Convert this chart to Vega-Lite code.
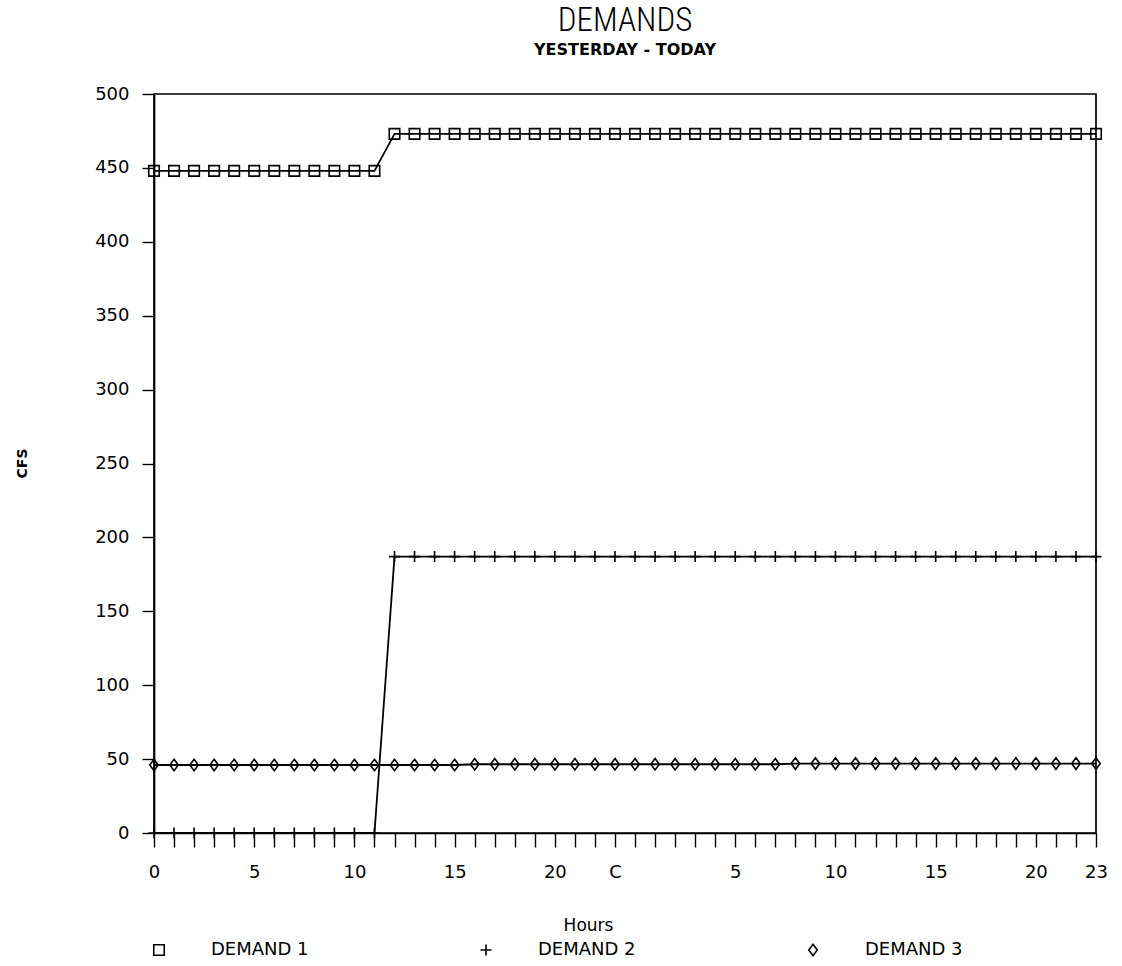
{
  "$schema": "https://vega.github.io/schema/vega-lite/v6.json",
  "autosize": "none",
  "width": 942,
  "height": 739,
  "padding": {"left": 154, "top": 94, "right": 26, "bottom": 133},
  "background": "white",
  "config": {
    "view": {"stroke": "black", "strokeWidth": 1.7},
    "font": "DejaVu Sans"
  },
  "title": {
    "text": "DEMANDS",
    "subtitle": "YESTERDAY - TODAY",
    "anchor": "middle",
    "frame": "group",
    "font": "'Roboto Condensed', 'DejaVu Sans Condensed', Roboto, sans-serif",
    "fontSize": 33,
    "fontWeight": 300,
    "color": "black",
    "subtitleFont": "DejaVu Sans",
    "subtitleFontSize": 16,
    "subtitleFontWeight": "bold",
    "subtitleColor": "black",
    "subtitlePadding": 4,
    "offset": 27
  },
  "data": {
    "values": [
      {"hour": 0, "series": "DEMAND 1", "value": 448},
      {"hour": 1, "series": "DEMAND 1", "value": 448},
      {"hour": 2, "series": "DEMAND 1", "value": 448},
      {"hour": 3, "series": "DEMAND 1", "value": 448},
      {"hour": 4, "series": "DEMAND 1", "value": 448},
      {"hour": 5, "series": "DEMAND 1", "value": 448},
      {"hour": 6, "series": "DEMAND 1", "value": 448},
      {"hour": 7, "series": "DEMAND 1", "value": 448},
      {"hour": 8, "series": "DEMAND 1", "value": 448},
      {"hour": 9, "series": "DEMAND 1", "value": 448},
      {"hour": 10, "series": "DEMAND 1", "value": 448},
      {"hour": 11, "series": "DEMAND 1", "value": 448},
      {"hour": 12, "series": "DEMAND 1", "value": 473},
      {"hour": 13, "series": "DEMAND 1", "value": 473},
      {"hour": 14, "series": "DEMAND 1", "value": 473},
      {"hour": 15, "series": "DEMAND 1", "value": 473},
      {"hour": 16, "series": "DEMAND 1", "value": 473},
      {"hour": 17, "series": "DEMAND 1", "value": 473},
      {"hour": 18, "series": "DEMAND 1", "value": 473},
      {"hour": 19, "series": "DEMAND 1", "value": 473},
      {"hour": 20, "series": "DEMAND 1", "value": 473},
      {"hour": 21, "series": "DEMAND 1", "value": 473},
      {"hour": 22, "series": "DEMAND 1", "value": 473},
      {"hour": 23, "series": "DEMAND 1", "value": 473},
      {"hour": 24, "series": "DEMAND 1", "value": 473},
      {"hour": 25, "series": "DEMAND 1", "value": 473},
      {"hour": 26, "series": "DEMAND 1", "value": 473},
      {"hour": 27, "series": "DEMAND 1", "value": 473},
      {"hour": 28, "series": "DEMAND 1", "value": 473},
      {"hour": 29, "series": "DEMAND 1", "value": 473},
      {"hour": 30, "series": "DEMAND 1", "value": 473},
      {"hour": 31, "series": "DEMAND 1", "value": 473},
      {"hour": 32, "series": "DEMAND 1", "value": 473},
      {"hour": 33, "series": "DEMAND 1", "value": 473},
      {"hour": 34, "series": "DEMAND 1", "value": 473},
      {"hour": 35, "series": "DEMAND 1", "value": 473},
      {"hour": 36, "series": "DEMAND 1", "value": 473},
      {"hour": 37, "series": "DEMAND 1", "value": 473},
      {"hour": 38, "series": "DEMAND 1", "value": 473},
      {"hour": 39, "series": "DEMAND 1", "value": 473},
      {"hour": 40, "series": "DEMAND 1", "value": 473},
      {"hour": 41, "series": "DEMAND 1", "value": 473},
      {"hour": 42, "series": "DEMAND 1", "value": 473},
      {"hour": 43, "series": "DEMAND 1", "value": 473},
      {"hour": 44, "series": "DEMAND 1", "value": 473},
      {"hour": 45, "series": "DEMAND 1", "value": 473},
      {"hour": 46, "series": "DEMAND 1", "value": 473},
      {"hour": 47, "series": "DEMAND 1", "value": 473},
      {"hour": 0, "series": "DEMAND 2", "value": 0},
      {"hour": 1, "series": "DEMAND 2", "value": 0},
      {"hour": 2, "series": "DEMAND 2", "value": 0},
      {"hour": 3, "series": "DEMAND 2", "value": 0},
      {"hour": 4, "series": "DEMAND 2", "value": 0},
      {"hour": 5, "series": "DEMAND 2", "value": 0},
      {"hour": 6, "series": "DEMAND 2", "value": 0},
      {"hour": 7, "series": "DEMAND 2", "value": 0},
      {"hour": 8, "series": "DEMAND 2", "value": 0},
      {"hour": 9, "series": "DEMAND 2", "value": 0},
      {"hour": 10, "series": "DEMAND 2", "value": 0},
      {"hour": 11, "series": "DEMAND 2", "value": 0},
      {"hour": 12, "series": "DEMAND 2", "value": 187},
      {"hour": 13, "series": "DEMAND 2", "value": 187},
      {"hour": 14, "series": "DEMAND 2", "value": 187},
      {"hour": 15, "series": "DEMAND 2", "value": 187},
      {"hour": 16, "series": "DEMAND 2", "value": 187},
      {"hour": 17, "series": "DEMAND 2", "value": 187},
      {"hour": 18, "series": "DEMAND 2", "value": 187},
      {"hour": 19, "series": "DEMAND 2", "value": 187},
      {"hour": 20, "series": "DEMAND 2", "value": 187},
      {"hour": 21, "series": "DEMAND 2", "value": 187},
      {"hour": 22, "series": "DEMAND 2", "value": 187},
      {"hour": 23, "series": "DEMAND 2", "value": 187},
      {"hour": 24, "series": "DEMAND 2", "value": 187},
      {"hour": 25, "series": "DEMAND 2", "value": 187},
      {"hour": 26, "series": "DEMAND 2", "value": 187},
      {"hour": 27, "series": "DEMAND 2", "value": 187},
      {"hour": 28, "series": "DEMAND 2", "value": 187},
      {"hour": 29, "series": "DEMAND 2", "value": 187},
      {"hour": 30, "series": "DEMAND 2", "value": 187},
      {"hour": 31, "series": "DEMAND 2", "value": 187},
      {"hour": 32, "series": "DEMAND 2", "value": 187},
      {"hour": 33, "series": "DEMAND 2", "value": 187},
      {"hour": 34, "series": "DEMAND 2", "value": 187},
      {"hour": 35, "series": "DEMAND 2", "value": 187},
      {"hour": 36, "series": "DEMAND 2", "value": 187},
      {"hour": 37, "series": "DEMAND 2", "value": 187},
      {"hour": 38, "series": "DEMAND 2", "value": 187},
      {"hour": 39, "series": "DEMAND 2", "value": 187},
      {"hour": 40, "series": "DEMAND 2", "value": 187},
      {"hour": 41, "series": "DEMAND 2", "value": 187},
      {"hour": 42, "series": "DEMAND 2", "value": 187},
      {"hour": 43, "series": "DEMAND 2", "value": 187},
      {"hour": 44, "series": "DEMAND 2", "value": 187},
      {"hour": 45, "series": "DEMAND 2", "value": 187},
      {"hour": 46, "series": "DEMAND 2", "value": 187},
      {"hour": 47, "series": "DEMAND 2", "value": 187},
      {"hour": 0, "series": "DEMAND 3", "value": 46},
      {"hour": 1, "series": "DEMAND 3", "value": 46},
      {"hour": 2, "series": "DEMAND 3", "value": 46},
      {"hour": 3, "series": "DEMAND 3", "value": 46},
      {"hour": 4, "series": "DEMAND 3", "value": 46},
      {"hour": 5, "series": "DEMAND 3", "value": 46},
      {"hour": 6, "series": "DEMAND 3", "value": 46},
      {"hour": 7, "series": "DEMAND 3", "value": 46},
      {"hour": 8, "series": "DEMAND 3", "value": 46},
      {"hour": 9, "series": "DEMAND 3", "value": 46},
      {"hour": 10, "series": "DEMAND 3", "value": 46},
      {"hour": 11, "series": "DEMAND 3", "value": 46},
      {"hour": 12, "series": "DEMAND 3", "value": 46},
      {"hour": 13, "series": "DEMAND 3", "value": 46},
      {"hour": 14, "series": "DEMAND 3", "value": 46},
      {"hour": 15, "series": "DEMAND 3", "value": 46},
      {"hour": 16, "series": "DEMAND 3", "value": 46.5},
      {"hour": 17, "series": "DEMAND 3", "value": 46.5},
      {"hour": 18, "series": "DEMAND 3", "value": 46.5},
      {"hour": 19, "series": "DEMAND 3", "value": 46.5},
      {"hour": 20, "series": "DEMAND 3", "value": 46.5},
      {"hour": 21, "series": "DEMAND 3", "value": 46.5},
      {"hour": 22, "series": "DEMAND 3", "value": 46.5},
      {"hour": 23, "series": "DEMAND 3", "value": 46.5},
      {"hour": 24, "series": "DEMAND 3", "value": 46.5},
      {"hour": 25, "series": "DEMAND 3", "value": 46.5},
      {"hour": 26, "series": "DEMAND 3", "value": 46.5},
      {"hour": 27, "series": "DEMAND 3", "value": 46.5},
      {"hour": 28, "series": "DEMAND 3", "value": 46.5},
      {"hour": 29, "series": "DEMAND 3", "value": 46.5},
      {"hour": 30, "series": "DEMAND 3", "value": 46.5},
      {"hour": 31, "series": "DEMAND 3", "value": 46.5},
      {"hour": 32, "series": "DEMAND 3", "value": 47},
      {"hour": 33, "series": "DEMAND 3", "value": 47},
      {"hour": 34, "series": "DEMAND 3", "value": 47},
      {"hour": 35, "series": "DEMAND 3", "value": 47},
      {"hour": 36, "series": "DEMAND 3", "value": 47},
      {"hour": 37, "series": "DEMAND 3", "value": 47},
      {"hour": 38, "series": "DEMAND 3", "value": 47},
      {"hour": 39, "series": "DEMAND 3", "value": 47},
      {"hour": 40, "series": "DEMAND 3", "value": 47},
      {"hour": 41, "series": "DEMAND 3", "value": 47},
      {"hour": 42, "series": "DEMAND 3", "value": 47},
      {"hour": 43, "series": "DEMAND 3", "value": 47},
      {"hour": 44, "series": "DEMAND 3", "value": 47},
      {"hour": 45, "series": "DEMAND 3", "value": 47},
      {"hour": 46, "series": "DEMAND 3", "value": 47},
      {"hour": 47, "series": "DEMAND 3", "value": 47}
    ]
  },
  "encoding": {
    "x": {
      "field": "hour",
      "type": "quantitative",
      "scale": {"domain": [0, 47], "nice": false, "zero": false},
      "axis": {
        "title": "Hours",
        "values": [0,1,2,3,4,5,6,7,8,9,10,11,12,13,14,15,16,17,18,19,20,21,22,23,24,25,26,27,28,29,30,31,32,33,34,35,36,37,38,39,40,41,42,43,44,45,46,47],
        "labelExpr": "datum.value == 23 ? 'C' : (indexof([0,5,10,15,20,29,34,39,44,47], datum.value) >= 0 ? toString(datum.value >= 24 ? datum.value - 24 : datum.value) : '')",
        "labelOverlap": false,
        "labelFlush": false,
        "labelBound": false,
        "grid": false,
        "domainColor": "black",
        "domainWidth": 1.7,
        "tickColor": "black",
        "tickWidth": 1.4,
        "tickSize": 14,
        "labelPadding": 16,
        "labelFont": "DejaVu Sans",
        "labelFontSize": 18,
        "labelColor": "black",
        "titleFont": "DejaVu Sans",
        "titleFontSize": 17,
        "titleFontWeight": "normal",
        "titleColor": "black",
        "titleX": 434,
        "titleY": 92,
        "titleAlign": "center",
        "titleBaseline": "middle"
      }
    },
    "y": {
      "field": "value",
      "type": "quantitative",
      "scale": {"domain": [0, 500], "nice": false},
      "axis": {
        "title": "CFS",
        "values": [0,50,100,150,200,250,300,350,400,450,500],
        "grid": false,
        "domainColor": "black",
        "domainWidth": 1.7,
        "tickColor": "black",
        "tickWidth": 1.4,
        "tickSize": 12,
        "labelPadding": 13,
        "labelFont": "DejaVu Sans",
        "labelFontSize": 18,
        "labelColor": "black",
        "titleFont": "DejaVu Sans",
        "titleFontSize": 14,
        "titleFontWeight": "bold",
        "titleColor": "black",
        "titleAngle": -90,
        "titleX": -132,
        "titleY": 369,
        "titleAlign": "center",
        "titleBaseline": "middle"
      }
    }
  },
  "layer": [
    {
      "mark": {"type": "line", "color": "black", "strokeWidth": 1.8},
      "encoding": {"detail": {"field": "series", "type": "nominal"}}
    },
    {
      "mark": {"type": "point", "filled": false, "stroke": "black", "strokeWidth": 1.6, "size": 100, "opacity": 1, "clip": false},
      "encoding": {
        "shape": {
          "field": "series",
          "type": "nominal",
          "scale": {
            "domain": ["DEMAND 1", "DEMAND 2", "DEMAND 3"],
            "range": ["M-1.05,-1.05H1.05V1.05H-1.05Z", "M-1.1,0H1.1M0,-1.1V1.1", "M0,-1.15L0.85,0L0,1.15L-0.85,0Z"]
          },
          "legend": {
            "title": null,
            "orient": "none",
            "legendX": -4,
            "legendY": 847,
            "direction": "horizontal",
            "columns": 3,
            "columnPadding": 168,
            "labelOffset": 43,
            "padding": 0,
            "labelFont": "DejaVu Sans",
            "labelFontSize": 18,
            "labelColor": "black",
            "symbolSize": 100,
            "symbolStrokeColor": "black",
            "symbolStrokeWidth": 1.6,
            "symbolFillColor": "transparent"
          }
        }
      }
    }
  ]
}
